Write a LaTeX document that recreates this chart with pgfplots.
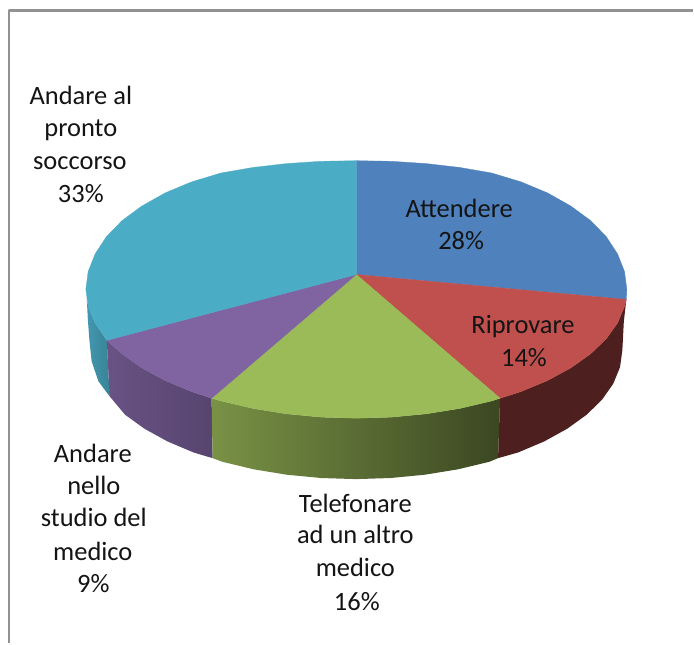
\documentclass[border=0pt]{standalone}
\usepackage{pgfplots}
\pgfplotsset{compat=1.18}
\usepackage{fontspec}
\setmainfont{Carlito}
\definecolor{cblue}{HTML}{4F81BD}
\definecolor{cred}{HTML}{C0504D}
\definecolor{cgreen}{HTML}{9BBB59}
\definecolor{cpurple}{HTML}{8064A2}
\definecolor{ccyan}{HTML}{4BACC6}
\definecolor{frame}{HTML}{929292}
\newcommand{\lab}[3]{\node[anchor=base,inner sep=0pt,font=\fontsize{26.5}{30}\selectfont,text=black!92] at (axis cs:#1,#2) {#3};}
\begin{document}
\begin{tikzpicture}
\begin{axis}[
  width=694pt,height=644pt,scale only axis,
  xmin=0,xmax=694,ymin=0,ymax=644,y dir=reverse,
  hide axis,clip=false,no markers,
  every axis plot/.append style={forget plot,line join=round}
]
% page
\addplot[draw=none,fill=white] coordinates {(0,0)(694,0)(694,644)(0,644)} -- cycle;
% frame
\addplot[draw=frame,line width=2.6pt,line cap=butt] coordinates {(9,644)(9,10.5)(694,10.5)};
% walls
\addplot[draw=none,left color=ccyan!88!black,right color=ccyan!76!black] coordinates {
(107,341)(95.2,323.4)(88.3,306.8)(87,300)(88,320)(89.5,340)(91.8,362)(98.6,382)(109.8,397)};
\addplot[draw=none,left color=cpurple!82!black,right color=cpurple!68!black] coordinates {
(107,341)(122.3,354.5)(142,368.5)(165.4,381.2)(192,392.3)(212,399)(213,459)(193.9,453.3)(167.7,442.2)(144.7,429.5)(125.3,415.5)(109.8,397)} -- cycle;
\addplot[draw=none,left color=cgreen!78!black,right color=cgreen!38!black] coordinates {
(212,399)(221.5,401.7)(253.3,409.2)(286.9,414.6)(321.6,417.9)(357,419)(392.4,417.9)(427.1,414.6)(460.7,409.2)(492.5,401.7)(501,399)
(499,459)(490,462.7)(458.7,470.2)(425.6,475.6)(391.3,478.9)(356.5,480)(321.7,478.9)(287.4,475.6)(254.3,470.2)(223,462.7)(213,459)} -- cycle;
\addplot[draw=none,fill=cred!40!black] coordinates {
(501,399)(522,392.3)(548.6,381.2)(572,368.5)(591.7,354.5)(607.4,339.4)(618.8,323.4)(625.7,306.8)(627.5,300)
(625,322)(623.5,351)(621.2,367.8)(614.4,384.4)(603.2,400.4)(587.7,415.5)(568.3,429.5)(545.3,442.2)(519.1,453.3)(499,459)} -- cycle;
% top faces
\addplot[draw=cblue,line width=.3pt,fill=cblue] coordinates {
(357,275)(357,161)(392.4,161.6)(427.1,163.9)(460.7,167.8)(492.5,173.3)(522,182.2)(548.6,193.3)(572,206.5)(591.7,221)(607.4,237.1)(618.8,254.6)(625.7,272.2)(628,290)(627.5,300)} -- cycle;
\addplot[draw=cred,line width=.3pt,fill=cred] coordinates {
(357,275)(627.5,300)(625.7,306.8)(618.8,323.4)(607.4,339.4)(591.7,354.5)(572,368.5)(548.6,381.2)(522,392.3)(501,399)} -- cycle;
\addplot[draw=cgreen,line width=.3pt,fill=cgreen] coordinates {
(357,275)(501,399)(492.5,401.7)(460.7,409.2)(427.1,414.6)(392.4,417.9)(357,419)(321.6,417.9)(286.9,414.6)(253.3,409.2)(221.5,401.7)(212,399)} -- cycle;
\addplot[draw=cpurple,line width=.3pt,fill=cpurple] coordinates {
(357,275)(212,399)(192,392.3)(165.4,381.2)(142,368.5)(122.3,354.5)(107,341)} -- cycle;
\addplot[draw=ccyan,line width=.3pt,fill=ccyan] coordinates {
(357,275)(107,341)(95.2,323.4)(88.3,306.8)(86,290)(88.3,272.2)(95.2,254.6)(106.6,237.1)(122.3,221)(142,206.5)(165.4,193.3)(192,182.2)(221.5,173.3)(253.3,167.8)(286.9,163.9)(321.6,161.6)(357,161)} -- cycle;
% labels
\lab{81}{105}{Andare al}
\lab{81}{137}{pronto}
\lab{80}{170}{soccorso}
\lab{81}{203}{33\%}
\lab{460}{218}{Attendere}
\lab{462}{250}{28\%}
\lab{524}{334}{Riprovare}
\lab{525}{367}{14\%}
\lab{93}{463}{Andare}
\lab{94}{495}{nello}
\lab{94}{527}{studio del}
\lab{93}{562}{medico}
\lab{93.5}{594}{9\%}
\lab{356}{513}{Telefonare}
\lab{356}{545}{ad un altro}
\lab{356}{578}{medico}
\lab{357.5}{612}{16\%}
\end{axis}
\end{tikzpicture}
\end{document}
